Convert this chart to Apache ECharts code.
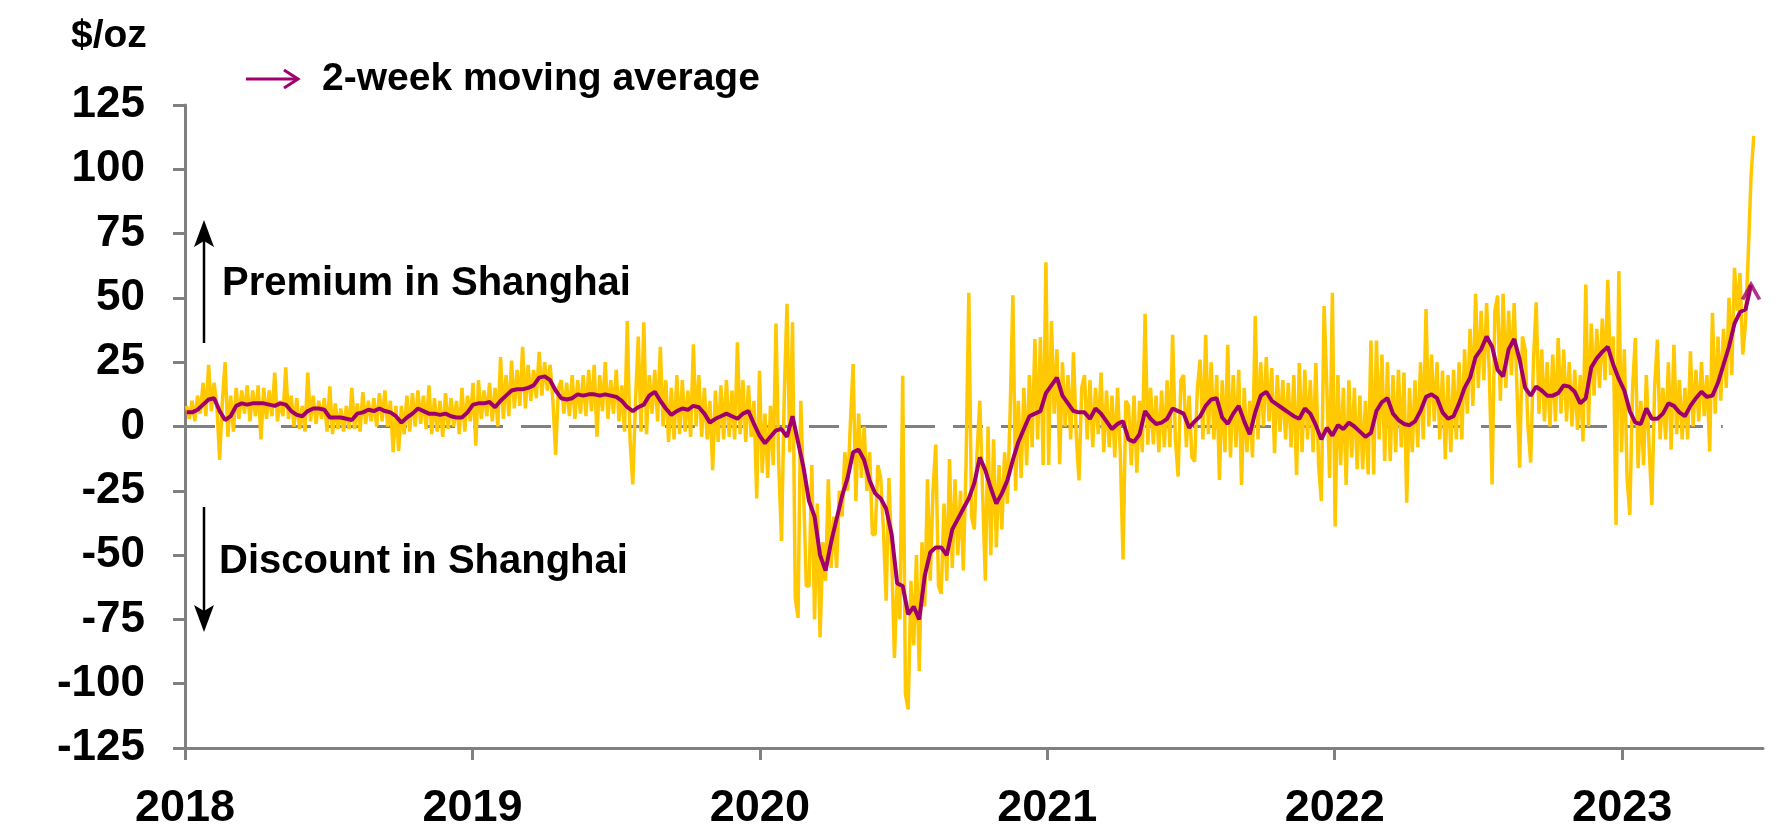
<!DOCTYPE html>
<html>
<head>
<meta charset="utf-8">
<title>Shanghai gold premium</title>
<script src="https://cdn.jsdelivr.net/npm/echarts@6/dist/echarts.min.js"></script>
<style>
  html, body { margin: 0; padding: 0; background: #fff; }
  #chart { width: 1788px; height: 834px; }
</style>
</head>
<body>
<div id="chart"></div>
<script>
// axis labels
var yearLabels = [2018, 2019, 2020, 2021, 2022, 2023];
var unitLabel = '$/oz';
var seriesName = '2-week moving average';

// spread, $/oz, two readings a week from 3 Jan 2018
var spread = [
    8, 3, 10, 2, 12, 5, 17, 4, 24, 6, 17, 8, -13, 10, 25, -4, 12, -2, 15, 3,
    14, 5, 16, 2, 14, 4, 16, -5, 15, 3, 14, 4, 21, 2, 10, 4, 23, 3, 12, 0,
    11, -1, 8, -2, 21, 2, 12, 1, 10, 3, 11, -2, 15.6, -3, 9, -1, 7, -2, 8, -1,
    15, -1, 9, -2, 13.4, 1, 10, 2, 11, 0, 13, 2, 14, 0, 10, -10, 8, -9.5, 8, -3,
    12, -2, 13, 0, 14, 1, 12, -1, 16, -3, 11, -2, 10, -4, 13, -1, 11, 0, 10, -3,
    15, -2, 12, 2,
    // 2019
    17, -7.5, 18, 3, 14, 4, 17, 2, 15, 0, 27, 3, 20, 4, 25.6, 7, 22, 8, 31, 7,
    24, 10, 22, 11, 29, 12, 25, 14, 24, 10, -11, 15, 18, 5, 17, 4, 20, 3, 18, 5,
    20, 4, 22, 6, 24, -4, 20, 6, 25, 3, 18, 5, 22, 2, 16, -2, 41, -5, -22.5, 10,
    35, -2, 40.5, -3, 20, 5, 22, 2, 31, 0, 18, -6, 15, -5, 20, -3, 18, -2, 14, -4,
    32, 0, 20, -4, 15, -5, 10, -17, 14, -6, 16, -5, 18, -4, 14, -5, 32.7, -3, 18, -6,
    16, -4, 10, -28,
    // 2020
    21.7, -18, 5, -20, 8, -15, 40, -15, -44.5, 12, 47.7, -10, 40.5, -66.6, -74.4, 10, -25, -62, -62, -15,
    -75, -30, -82, -45, -60, -20.5, -55, -35, -55, -25, -35, -10, -25, 1, 24.3, -29, 5, -20, 0, -25,
    -10, -42, -42, -15, -20, -40, -67.7, -20, -50, -90, -60, -75, 19.7, -104, -110, -60, -85, -50, -95, -45,
    -70, -20.5, -60, -25, -7, -62, -65, -30, -60, -12.7, -55, -20.5, -50, -25, -56, -15, 52, -35, -40, -10,
    10, -25, -60, 0, -50, -5, -47, -15, -40, -10, -30, 5, 51, -25, 10, -20, 15, -15, 20, -8,
    34, -5, 34.7, -15, 63.9, -15,
    // 2021
    41, 5, 30, -14.7, 25, 0, 20, -5, 28.8, -3, -21, 15, 20, -5, 18, -8, 15, -3, 21, -10,
    14, -8, 12, -12, 15, -10, -51.7, 10, 8, -15, 12, -18, 10, -10, 43.8, -7.1, 15, -7, 12, -10,
    14, -8, 18, -8, 35.7, -5, -19.5, 18, 20, -8, 12, -12, -13.6, 15, 26, -5, 35.7, -3, 25, -5,
    20, -20.8, 18, -10, 31.8, -12, 20, -8, 22, -22.7, 15, -10, 10, -12, 42.9, -5, 25, 0, 27, 2,
    22.7, -10.4, 20, -2, 18, -5, 17, -8, 20, -18.8, 24.7, -10, 22, -5, 18, -10, 24.7, -15, -29, 46.8,
    15, -20, 52, -38.9,
    // 2022
    20, -15, 15, -22.7, 18, -12, 15, -16.6, 12, -16.6, 10, -18.6, 33.4, -18.6, 33.4, -5, 28, -13.4, 25, -13.4,
    20, -10, 22, -8, 21, -29.6, 15, -10, 18, -8, 25, -5, 45.7, 0, 28, 2, 25, -5, 21.7, -12.7,
    20, -10, 22, -5, 25, -5, 30, 5, 38, 8, 51.6, 15, 45, 18, 48, 20, -22.5, 45, 50.9, 10,
    51.6, 15, 45, 20, 48, 15, -16, 35, 30, 0, -14, 25, 48.3, 5, 30, 2, 25, 0, 28, 2,
    34.4, 5, 29.9, 2, 25, 0, 22, -1.3, 20, -5.8, 55.2, 0, 40, 12, 38, 15, 42, 18, 57, 20,
    35, -38.3, 60.4, -10,
    // 2023
    30, -20, -34.4, 15, 34.4, -16.2, 10, -15, 20, -8, -30.5, 15, 33.8, -5, 15, -5, 25, -9, 31.8, -3,
    18, -5, 15, -5, 29.2, 0, 22, 2, 25, 4, 20, -9.7, 44.2, 5, 35, 10, 38, 15, 50, 20,
    61.7, 45, 59.7, 28, 40, 67, 97, 113
];

// 2-week moving average, one reading a week from 3 Jan 2018
var movingAvg = [
    5.5, 5.5, 6.5, 8.5, 10.5, 11, 6, 2.5, 4, 8,
    9, 8.5, 9, 9, 9, 8.5, 8, 9, 8.5, 6,
    4.5, 4, 6, 7, 7, 6.5, 3.5, 3.5, 3.5, 3,
    2.5, 5, 5.5, 6.5, 6, 7, 6, 5.5, 4, 1.5,
    3.5, 5, 7, 6, 5, 5, 4.5, 5, 4, 3.5,
    3.5, 5.5, 8.5, 9, 9, 9.5, 7.5, 10, 12, 14,
    14.5, 14.5, 15, 16, 19, 19.5, 18, 14, 11, 10.5,
    11, 12.5, 12, 12.5, 12.5, 12, 12.5, 12, 11.5, 10,
    7.5, 6, 7.5, 8.5, 12, 13.5, 10, 7, 4.5, 6,
    7, 6.5, 8, 7.5, 5, 1.5, 3, 4, 5, 4,
    3, 5, 6, 1, -3.5, -6.5, -4, -1.5, -1, -4,
    4, -6, -16, -29, -35, -50, -56, -45, -36, -27,
    -20, -10, -9, -13, -21, -26, -28, -32, -42, -61,
    -62, -73, -70, -75, -58, -49, -47, -47, -50, -40,
    -36, -32, -28, -22, -12, -17, -24, -30, -26, -21,
    -13, -6, -1, 4, 5, 6, 13, 16, 19, 12,
    9, 6, 5.5, 5.5, 3, 7, 5, 2, -1, 1,
    2, -5, -6, -3, 6, 3, 1, 1.5, 3, 7,
    6, 5, -0.5, 2, 4, 8, 10.5, 11, 3.5, 1,
    5, 8, 2, -3, 5.5, 12, 13.5, 10, 8.5, 7,
    5.5, 4, 3, 7, 5, 0.5, -5, -0.5, -3.5, 0.5,
    -1, 1.5, 0, -2, -4, -2.5, 6, 9.5, 11, 5,
    2.5, 1, 0.5, 2, 6, 11.5, 12.5, 11, 5.5, 3,
    4, 9, 15, 19, 27, 30, 35, 31, 22, 19.5,
    30, 34, 26, 15, 12, 15.5, 14, 12, 12, 13,
    16, 15.5, 13.5, 9, 11, 23, 26.5, 29, 31, 24,
    18.5, 14, 6, 1.5, 1, 7, 3, 3, 5, 9,
    8, 5.5, 4, 8, 11, 13.5, 11.5, 12, 17, 24,
    31, 40, 44.5, 45.5, 55
];

var FONT = '"Liberation Sans", Arial, sans-serif';
var YELLOW = '#FFC800';
var PURPLE = '#A0006E';
var GREY = '#808080';

// day 0 = 1 Jan 2018, shown as fractional years
function dayToYear(d) {
    return 2018 + d / 365.25;
}

var spreadData = spread.map(function (v, i) { return [dayToYear(2 + 3.5 * i), v]; });
var avgData = movingAvg.map(function (v, i) { return [dayToYear(2 + 7 * i), v]; });
var lastAvg = avgData[avgData.length - 1];
var zeroEnd = 2023.35;

var dom = document.getElementById('chart');
var myChart = echarts.init(dom);

var option = {
    animation: false,
    backgroundColor: '#fff',
    grid: {
        left: 185,
        right: 25,
        top: 105,
        bottom: 86,
        containLabel: false,
        outerBoundsMode: 'none'
    },
    xAxis: {
        type: 'value',
        min: 2018,
        max: 2023.49,
        interval: 1,
        splitLine: { show: false },
        axisLine: { onZero: false, lineStyle: { color: GREY, width: 3 } },
        axisTick: {
            length: 12,
            customValues: yearLabels,
            lineStyle: { color: GREY, width: 3 }
        },
        axisLabel: {
            customValues: yearLabels,
            formatter: function (v) { return String(Math.round(v)); },
            margin: 38,
            color: '#000',
            fontSize: 45,
            fontWeight: 'bold',
            fontFamily: FONT
        }
    },
    yAxis: {
        type: 'value',
        min: -125,
        max: 125,
        interval: 25,
        splitLine: { show: false },
        axisLine: { show: true, lineStyle: { color: GREY, width: 3 } },
        axisTick: { show: true, length: 12, lineStyle: { color: GREY, width: 3 } },
        axisLabel: {
            margin: 40,
            color: '#000',
            fontSize: 44,
            fontWeight: 'bold',
            fontFamily: FONT
        }
    },
    graphic: [
        {
            type: 'text', left: 71, top: 17,
            style: { text: unitLabel, font: 'bold 39px ' + FONT, fill: '#000' }
        },
        // legend arrow
        {
            type: 'line',
            shape: { x1: 246, y1: 79, x2: 297, y2: 79 },
            style: { stroke: PURPLE, lineWidth: 3 }
        },
        {
            type: 'polyline',
            shape: { points: [[284, 70], [298, 79], [284, 88]] },
            style: { stroke: PURPLE, lineWidth: 3, fill: null }
        },
        {
            type: 'text', x: 322, y: 79,
            style: { text: seriesName, font: 'bold 39px ' + FONT, fill: '#000', verticalAlign: 'middle' }
        },
        // premium arrow
        {
            type: 'line',
            shape: { x1: 204, y1: 343, x2: 204, y2: 236 },
            style: { stroke: '#000', lineWidth: 2.5 }
        },
        {
            type: 'polygon',
            shape: { points: [[204, 220], [214, 247], [204, 241], [194, 247]] },
            style: { fill: '#000' }
        },
        {
            type: 'text', x: 222, y: 284,
            style: { text: 'Premium in Shanghai', font: 'bold 40px ' + FONT, fill: '#000', verticalAlign: 'middle' }
        },
        // discount arrow
        {
            type: 'line',
            shape: { x1: 204, y1: 507, x2: 204, y2: 615 },
            style: { stroke: '#000', lineWidth: 2.5 }
        },
        {
            type: 'polygon',
            shape: { points: [[204, 632], [214, 605], [204, 611], [194, 605]] },
            style: { fill: '#000' }
        },
        {
            type: 'text', x: 219, y: 562,
            style: { text: 'Discount in Shanghai', font: 'bold 40px ' + FONT, fill: '#000', verticalAlign: 'middle' }
        }
    ],
    series: [
        {
            name: 'zero',
            type: 'line',
            data: [[2018, 0], [zeroEnd, 0]],
            symbol: 'none',
            silent: true,
            z: 1,
            lineStyle: { color: GREY, width: 3, type: [30, 18] }
        },
        {
            name: 'Spread',
            type: 'line',
            data: spreadData,
            symbol: 'none',
            z: 2,
            lineStyle: { color: YELLOW, width: 3.5 }
        },
        {
            name: seriesName,
            type: 'line',
            data: avgData,
            symbol: 'none',
            z: 3,
            lineStyle: { color: PURPLE, width: 4 }
        },
        {
            // arrow head at the end of the moving average
            type: 'scatter',
            data: [lastAvg],
            symbol: 'path://M0,16L8,0L16,16',
            symbolSize: [17, 15],
            symbolOffset: [0, 7],
            z: 4,
            itemStyle: { color: 'rgba(0,0,0,0)', borderColor: PURPLE, borderWidth: 3.5 }
        }
    ]
};

if (option && typeof option === 'object') {
    myChart.setOption(option, true);
}
</script>
</body>
</html>
